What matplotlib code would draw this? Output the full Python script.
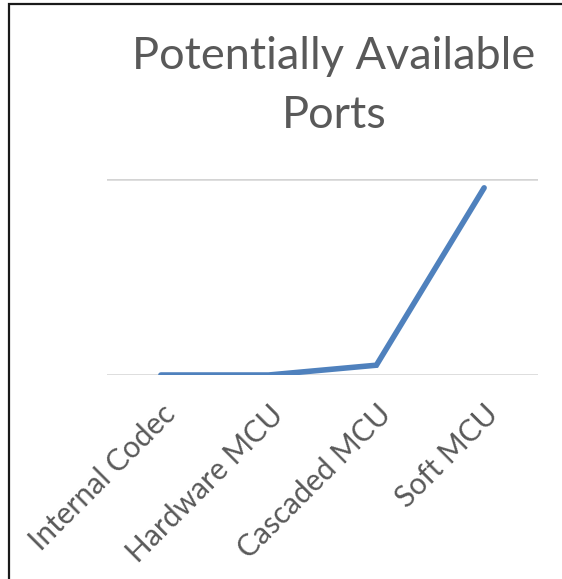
import matplotlib
matplotlib.use("Agg")
import matplotlib.pyplot as plt
from matplotlib.patches import Rectangle

# chart data
categories = ["Internal Codec", "Hardware MCU", "Cascaded MCU", "Soft MCU"]
ports = [0, 0, 50, 955]
y_ticks = [0, 1000]

W, H = 562, 579
fig = plt.figure(figsize=(W / 100, H / 100), dpi=100)
plt.rcParams['font.family'] = ['Lato', 'DejaVu Sans']

# outer frame
fig.patches.append(Rectangle((9 / W, -0.05), 1.2, (H - 4) / H + 0.05,
                             transform=fig.transFigure, fill=False,
                             edgecolor='#1a1a1a', linewidth=1.6))

ax = fig.add_axes([107 / W, (H - 375) / H, (538 - 107) / W, (375 - 179) / H])
x = list(range(len(categories)))
ax.plot(x, ports, color='#4f81bd', linewidth=4, solid_capstyle='round',
        solid_joinstyle='miter', zorder=3)

ax.set_xlim(-0.5, len(categories) - 0.5)
ax.set_ylim(y_ticks[0], y_ticks[-1])
ax.set_yticks(y_ticks)
ax.set_yticklabels([])
ax.grid(axis='y', color='#d4d4d4', linewidth=1.8)
ax.tick_params(axis='both', length=0)
for s in ax.spines.values():
    s.set_visible(False)

ax.set_xticks(x)
ax.set_xticklabels(categories, rotation=45, ha='right', va='top',
                   rotation_mode='anchor', fontsize=21.5, color='#595959')
ax.tick_params(axis='x', pad=18)

fig.text(334 / W, 1 - 86 / H, "Potentially Available\nPorts", ha='center',
         va='center', fontsize=32.5, color='#595959', linespacing=1.55)

fig.savefig("out.png", dpi=100)
